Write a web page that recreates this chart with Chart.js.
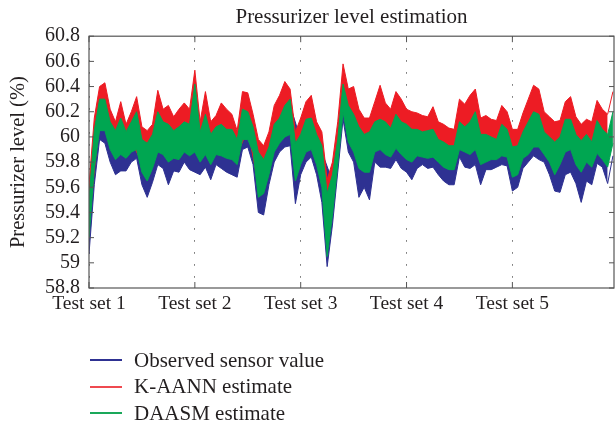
<!DOCTYPE html>
<html>
<head>
<meta charset="utf-8">
<title>Pressurizer level estimation</title>
<script src="https://cdn.jsdelivr.net/npm/chart.js@4.4.1/dist/chart.umd.min.js"></script>
<style>
  html, body { margin: 0; padding: 0; background: #fff; overflow: hidden; }
  #wrap { position: relative; width: 615px; height: 425px; }
  #legend {
    position: absolute; left: 90px; top: 347px;
    font-family: 'Liberation Serif', 'Times New Roman', serif;
    font-size: 21px; color: #231f20;
  }
  .row { height: 26.5px; display: flex; align-items: center; white-space: nowrap; }
  .swatch { width: 32px; height: 2px; margin-right: 12px; }
</style>
</head>
<body>
<div id="wrap">
  <canvas id="chart1" width="615" height="425"></canvas>
  <div id="legend">
    <div class="row"><span class="swatch" style="background:#2e3192"></span>Observed sensor value</div>
    <div class="row"><span class="swatch" style="background:#ef4a50"></span>K-AANN estimate</div>
    <div class="row"><span class="swatch" style="background:#1aa85a"></span>DAASM estimate</div>
  </div>
</div>
<script>
// x runs in "test set" units, one sample every 0.05 (fine) or 0.1 (coarse)
var sampleStep = 0.05;
var coarseStep = 0.1;

var xTickValues = [0, 1, 2, 3, 4];
var xTickLabels = ['Test set 1', 'Test set 2', 'Test set 3', 'Test set 4', 'Test set 5'];
var yTicks = [58.8, 59, 59.2, 59.4, 59.6, 59.8, 60, 60.2, 60.4, 60.6, 60.8];

// upper / lower envelope of each noisy trace
var redHi = [
  59.62, 60.15, 60.40, 60.43, 60.22, 60.12, 60.28, 60.10, 60.20, 60.32,
  60.08, 60.05, 60.10, 60.37, 60.22, 60.25, 60.16, 60.22, 60.27, 60.22,
  60.53, 60.12, 60.36, 60.12, 60.17, 60.27, 60.22, 60.18, 60.05, 60.36,
  60.35, 60.18, 59.98, 59.93, 60.04, 60.25, 60.33, 60.44, 60.38, 60.04,
  60.15, 60.28, 60.33, 60.12, 60.04, 59.66, 59.80, 60.12, 60.58, 60.38,
  60.40, 60.22, 60.15, 60.15, 60.28, 60.41, 60.27, 60.22, 60.36, 60.30,
  60.22, 60.20, 60.19, 60.17, 60.16, 60.24, 60.12, 60.10, 60.07, 60.06,
  60.30, 60.26, 60.33, 60.38, 60.15, 60.17, 60.14, 60.13, 60.25, 60.20,
  60.06, 60.06, 60.19, 60.30, 60.41, 60.38, 60.20, 60.16, 60.12, 60.13,
  60.28, 60.32, 60.16, 60.10, 60.14, 60.12, 60.29, 60.22, 60.18, 60.36
];
var redLo = [
  59.32, 60.14, 59.98, 59.95, 59.96, 59.80, 59.84, 59.94, 59.92, 59.96,
  59.96, 59.94, 59.94, 59.92, 59.86, 60.06, 59.62, 59.78, 60.04, 60.10,
  59.86, 59.98, 59.70, 59.48, 60.28, 59.96, 59.82, 59.96, 59.94, 59.99,
  59.90, 59.93, 59.91, 59.88, 59.82, 59.98, 59.95, 59.86, 59.90, 59.93,
  59.78, 59.92, 60.00, 59.94, 59.80, 59.96, 59.86, 59.88, 59.95, 59.85
];
var greenHi = [
  59.50, 60.05, 60.30, 60.30, 60.12, 60.05, 60.15, 60.04, 60.12, 60.20,
  59.98, 59.95, 60.02, 60.20, 60.12, 60.10, 60.05, 60.08, 60.12, 60.10,
  60.42, 60.04, 60.18, 60.02, 60.08, 60.10, 60.06, 60.06, 59.98, 60.22,
  60.20, 60.08, 59.88, 59.82, 59.92, 60.10, 60.15, 60.25, 60.30, 59.95,
  60.02, 60.14, 60.15, 60.02, 59.93, 59.55, 59.70, 59.98, 60.42, 60.25,
  60.18, 60.08, 60.02, 60.04, 60.12, 60.14, 60.12, 60.07, 60.18, 60.12,
  60.10, 60.06, 60.06, 60.04, 60.05, 60.06, 59.98, 59.96, 59.93, 59.93,
  60.12, 60.08, 60.12, 60.20, 60.02, 60.02, 60.00, 59.98, 60.10, 60.06,
  59.92, 59.93, 60.04, 60.12, 60.20, 60.18, 60.04, 60.00, 59.96, 60.00,
  60.14, 60.14, 60.02, 59.97, 60.02, 59.96, 60.13, 60.06, 60.02, 60.20
];
var greenLo = [
  59.20, 59.75, 60.05, 60.05, 59.90, 59.82, 59.86, 59.83, 59.88, 59.90,
  59.72, 59.65, 59.75, 59.88, 59.86, 59.80, 59.83, 59.82, 59.88, 59.85,
  59.88, 59.80, 59.86, 59.78, 59.86, 59.85, 59.83, 59.82, 59.78, 59.98,
  59.98, 59.88, 59.52, 59.55, 59.70, 59.88, 59.95, 60.00, 60.02, 59.65,
  59.78, 59.88, 59.90, 59.78, 59.60, 59.05, 59.38, 59.78, 60.20, 59.96,
  59.88, 59.75, 59.72, 59.72, 59.88, 59.90, 59.86, 59.84, 59.91, 59.86,
  59.82, 59.80, 59.85, 59.84, 59.83, 59.84, 59.80, 59.76, 59.74, 59.74,
  59.90, 59.88, 59.86, 59.90, 59.78, 59.80, 59.82, 59.82, 59.85, 59.84,
  59.68, 59.70, 59.83, 59.86, 59.92, 59.92, 59.86, 59.80, 59.70, 59.78,
  59.88, 59.90, 59.78, 59.72, 59.80, 59.76, 59.87, 59.82, 59.76, 59.95
];
var blueHi = [
  59.40, 60.25, 60.08, 60.12, 60.08, 59.94, 59.98, 60.08, 60.02, 60.10,
  60.05, 60.14, 60.05, 60.10, 59.95, 60.18, 59.82, 59.88, 60.12, 60.25,
  59.98, 60.10, 59.88, 59.65, 60.38, 60.14, 59.98, 60.08, 60.08, 60.14,
  60.06, 60.02, 60.02, 59.95, 59.90, 60.10, 60.08, 59.98, 59.96, 60.06,
  59.88, 60.00, 60.16, 60.00, 59.92, 60.10, 59.98, 59.98, 60.08, 59.98
];
var blueLo = [
  59.07, 59.62, 59.98, 59.95, 59.80, 59.70, 59.73, 59.73, 59.80, 59.83,
  59.62, 59.52, 59.64, 59.78, 59.75, 59.62, 59.73, 59.72, 59.80, 59.74,
  59.72, 59.70, 59.76, 59.66, 59.78, 59.75, 59.72, 59.70, 59.68, 59.90,
  59.92, 59.78, 59.40, 59.38, 59.62, 59.80, 59.88, 59.92, 59.93, 59.47,
  59.70, 59.80, 59.84, 59.70, 59.48, 58.97, 59.30, 59.72, 60.14, 59.88,
  59.80, 59.52, 59.60, 59.50, 59.80, 59.76, 59.76, 59.75, 59.82, 59.75,
  59.72, 59.66, 59.75, 59.78, 59.75, 59.76, 59.70, 59.65, 59.62, 59.62,
  59.84, 59.76, 59.75, 59.78, 59.62, 59.74, 59.74, 59.76, 59.78, 59.77,
  59.57, 59.60, 59.75, 59.80, 59.85, 59.82, 59.80, 59.70, 59.57, 59.56,
  59.70, 59.72, 59.63, 59.48, 59.65, 59.62, 59.79, 59.76, 59.63, 59.85
];

var blue = '#2e3192';
var red = '#ed1c24';
var green = '#00a651';
var textColor = '#231f20';
var serif = "'Liberation Serif', 'Times New Roman', serif";

function toPoints(values, step) {
    return values.map(function(v, i) { return {x: i * step, y: v}; });
}

function band(label, hi, hiStep, lo, loStep, color) {
    return [{
        label: label,
        data: toPoints(hi, hiStep),
        borderColor: color,
        backgroundColor: color,
        borderWidth: 1,
        pointRadius: 0,
        tension: 0,
        fill: '+1'
    }, {
        label: label + ' (low)',
        data: toPoints(lo, loStep),
        borderColor: color,
        backgroundColor: color,
        borderWidth: 1,
        pointRadius: 0,
        tension: 0,
        fill: false
    }];
}

// box round the plot with short inward ticks, like the original
var framePlugin = {
    id: 'frame',
    afterDraw: function(chart) {
        var ctx = chart.ctx, a = chart.chartArea;
        var x = chart.scales.x, y = chart.scales.y;
        ctx.save();
        ctx.strokeStyle = '#555';
        ctx.lineWidth = 1.2;
        ctx.strokeRect(a.left, a.top, a.right - a.left, a.bottom - a.top);
        ctx.lineWidth = 1;
        ctx.beginPath();
        yTicks.forEach(function(v) {
            var py = y.getPixelForValue(v);
            ctx.moveTo(a.left, py); ctx.lineTo(a.left + 5, py);
            ctx.moveTo(a.right, py); ctx.lineTo(a.right - 5, py);
        });
        xTickValues.forEach(function(v) {
            var px = x.getPixelForValue(v);
            ctx.moveTo(px, a.top); ctx.lineTo(px, a.top + 6);
            ctx.moveTo(px, a.bottom); ctx.lineTo(px, a.bottom - 6);
        });
        ctx.stroke();
        ctx.restore();
    }
};

var ctx = document.getElementById('chart1').getContext('2d');
var myChart = new Chart(ctx, {
    type: 'line',
    data: {
        datasets: []
            .concat(band('DAASM estimate', greenHi, sampleStep, greenLo, sampleStep, green))
            .concat(band('K-AANN estimate', redHi, sampleStep, redLo, coarseStep, red))
            .concat(band('Observed sensor value', blueHi, coarseStep, blueLo, sampleStep, blue))
    },
    options: {
        responsive: false,
        animation: false,
        devicePixelRatio: 1,
        layout: {
            padding: {left: 0, right: 1, top: 0, bottom: 107}
        },
        plugins: {
            legend: {display: false},
            tooltip: {enabled: false},
            title: {
                display: true,
                text: 'Pressurizer level estimation',
                fullSize: false,
                color: textColor,
                font: {family: serif, size: 21, weight: 'normal'},
                padding: {top: 5, bottom: 6}
            }
        },
        scales: {
            x: {
                type: 'linear',
                min: 0,
                max: 4.96,
                afterBuildTicks: function(scale) {
                    scale.ticks = xTickValues.map(function(v) { return {value: v}; });
                },
                afterFit: function(scale) { scale.height = 30; },
                grid: {color: '#666', lineWidth: 1, drawTicks: false},
                border: {display: false, dash: [1.5, 10.5]},
                ticks: {
                    color: textColor,
                    font: {family: serif, size: 19.5},
                    padding: 4,
                    maxRotation: 0,
                    autoSkip: false,
                    callback: function(v) { return xTickLabels[xTickValues.indexOf(v)]; }
                }
            },
            y: {
                min: 58.8,
                max: 60.8,
                afterBuildTicks: function(scale) {
                    scale.ticks = yTicks.map(function(v) { return {value: v}; });
                },
                afterFit: function(scale) { scale.width = 89; },
                grid: {display: false, drawTicks: false},
                border: {display: false},
                ticks: {
                    color: textColor,
                    font: {family: serif, size: 20},
                    padding: 9,
                    autoSkip: false,
                    callback: function(v) { return String(+v.toFixed(1)); }
                },
                title: {
                    display: true,
                    text: 'Pressurizer level (%)',
                    color: textColor,
                    font: {family: serif, size: 20.5},
                    padding: {top: 6, bottom: 0}
                }
            }
        }
    },
    plugins: [framePlugin]
});
</script>
</body>
</html>
